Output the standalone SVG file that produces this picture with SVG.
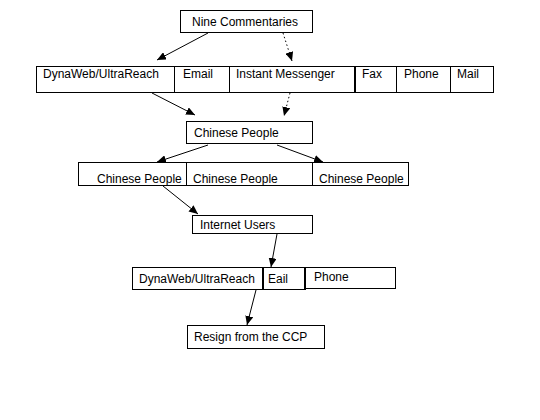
<svg xmlns="http://www.w3.org/2000/svg" width="540" height="420" viewBox="0 0 540 420">
<style>
rect{fill:#fff;stroke:#000;stroke-width:1}
text{font-family:"Liberation Sans",Arial,sans-serif;font-size:12px;fill:#000}
.c{stroke:#000;stroke-width:1;fill:none;marker-end:url(#ah)}
.d{stroke-dasharray:1.5,2.5}
.t{stroke:#000;stroke-width:2}
</style>
<defs>
<marker id="ah" markerUnits="userSpaceOnUse" markerWidth="10" markerHeight="8" refX="9" refY="4" orient="auto">
<path d="M0,0 L9,4 L0,8 z" fill="#000"/>
</marker>
</defs>
<rect width="540" height="420" style="stroke:none"/>
<g id="connectors">
<line class="c" x1="208" y1="33" x2="157" y2="60"/>
<line class="c d" x1="283" y1="33" x2="292" y2="61"/>
<line class="c" x1="152" y1="93" x2="195" y2="115"/>
<line class="c d" x1="290" y1="93" x2="284" y2="116"/>
<line class="c" x1="208" y1="145" x2="157" y2="162"/>
<line class="c" x1="277" y1="145" x2="323" y2="162"/>
<line class="c" x1="163" y1="186" x2="198" y2="214"/>
<line class="c" x1="277" y1="234" x2="271" y2="267"/>
<line class="c" x1="256" y1="290" x2="247" y2="325"/>
</g>
<g id="nine">
<rect x="180.5" y="10.5" width="132" height="22"/>
<text x="192" y="26">Nine Commentaries</text>
</g>
<g id="row1">
<rect x="36.5" y="66.5" width="457" height="26"/>
<line x1="174.5" y1="66" x2="174.5" y2="93" stroke="#000"/>
<line x1="229.5" y1="66" x2="229.5" y2="93" stroke="#000"/>
<line class="t" x1="355" y1="66" x2="355" y2="93"/>
<line x1="396.5" y1="66" x2="396.5" y2="93" stroke="#000"/>
<line x1="450.5" y1="66" x2="450.5" y2="93" stroke="#000"/>
<text x="43" y="78">DynaWeb/UltraReach</text>
<text x="183" y="78">Email</text>
<text x="236" y="78">Instant Messenger</text>
<text x="362" y="78">Fax</text>
<text x="404" y="78">Phone</text>
<text x="457" y="78">Mail</text>
</g>
<g id="people1">
<rect x="186.5" y="121.5" width="126" height="22"/>
<text x="194" y="137">Chinese People</text>
</g>
<g id="row3">
<rect x="78.5" y="162.5" width="330" height="23"/>
<line x1="186.5" y1="162" x2="186.5" y2="186" stroke="#000"/>
<line x1="312.5" y1="162" x2="312.5" y2="186" stroke="#000"/>
<text x="97" y="183">Chinese People</text>
<text x="193" y="183">Chinese People</text>
<text x="319" y="183">Chinese People</text>
</g>
<g id="internet">
<rect x="192.5" y="215.5" width="120" height="18"/>
<text x="200" y="229">Internet Users</text>
</g>
<g id="row5">
<rect x="132.5" y="267.5" width="130" height="22"/>
<rect x="262.5" y="267.5" width="43" height="22"/>
<rect x="305.5" y="267.5" width="90" height="21"/>
<line class="t" x1="263" y1="267" x2="263" y2="290"/>
<line class="t" x1="305" y1="267" x2="305" y2="290"/>
<text x="139" y="283">DynaWeb/UltraReach</text>
<text x="268" y="283">Eail</text>
<text x="314" y="281">Phone</text>
</g>
<g id="resign">
<rect x="187.5" y="325.5" width="137" height="23"/>
<text x="194" y="341">Resign from the CCP</text>
</g>
</svg>
